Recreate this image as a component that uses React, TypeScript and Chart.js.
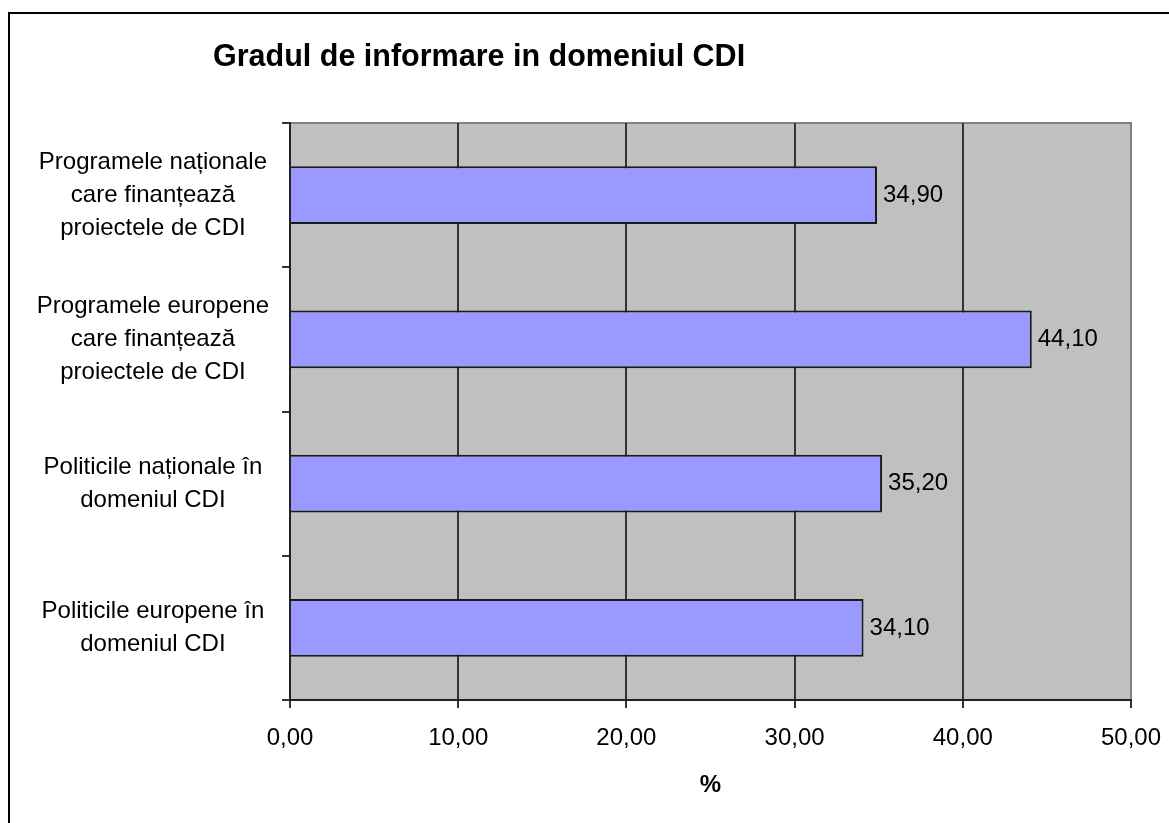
import React, { useEffect, useRef } from "react";
import { Chart, registerables } from "chart.js";

Chart.register(...registerables);

const chartTitle = "Gradul de informare in domeniul CDI";
const categories: string[][] = [
  ["Programele naționale", "care finanțează", "proiectele de CDI"],
  ["Programele europene", "care finanțează", "proiectele de CDI"],
  ["Politicile naționale în", "domeniul CDI"],
  ["Politicile europene în", "domeniul CDI"],
];
const values = [34.9, 44.1, 35.2, 34.1];
const xTickValues = [0, 10, 20, 30, 40, 50];
const xAxisTitle = "%";

const FONT = "'Liberation Sans', Arial, sans-serif";
const fmt = (v: number) => v.toFixed(2).replace(".", ",");

const decorPlugin = {
  id: "decor",
  beforeDraw(chart: any) {
    const { ctx, chartArea, width, height } = chart;
    ctx.save();
    // outer chart border (top & left visible)
    ctx.fillStyle = "#000";
    ctx.fillRect(8, 12, width - 8, 2);
    ctx.fillRect(8, 12, 2, height - 12);
    // plot background
    ctx.fillStyle = "#C0C0C0";
    ctx.fillRect(chartArea.left, chartArea.top, chartArea.right - chartArea.left, chartArea.bottom - chartArea.top);
    // top border of plot
    ctx.fillStyle = "#808080";
    ctx.fillRect(chartArea.left, chartArea.top - 1, chartArea.right - chartArea.left + 1, 2);
    // title
    ctx.fillStyle = "#000";
    ctx.font = `bold 30.5px ${FONT}`;
    ctx.textAlign = "left";
    ctx.textBaseline = "alphabetic";
    ctx.fillText(chartTitle, 213, 66);
    ctx.restore();
  },
  afterDatasetsDraw(chart: any) {
    const { ctx } = chart;
    const meta = chart.getDatasetMeta(0);
    ctx.save();
    ctx.fillStyle = "#000";
    ctx.font = `24px ${FONT}`;
    ctx.textAlign = "left";
    ctx.textBaseline = "middle";
    meta.data.forEach((bar: any, i: number) => {
      ctx.fillText(fmt(values[i]), bar.x + 6, bar.y);
    });
    ctx.restore();
  },
};

export default function App() {
  const canvasRef = useRef<HTMLCanvasElement | null>(null);

  useEffect(() => {
    if (!canvasRef.current) return;
    const chart = new Chart(canvasRef.current, {
      type: "bar",
      data: {
        labels: categories as any,
        datasets: [
          {
            data: values,
            backgroundColor: "#9999FF",
            borderColor: "#1a1a1a",
            borderWidth: 2,
            categoryPercentage: 1,
            barPercentage: 0.4,
          },
        ],
      },
      options: {
        indexAxis: "y",
        responsive: false,
        animation: false,
        layout: { padding: { top: 123, right: 38, left: 0, bottom: 0 } },
        plugins: {
          legend: { display: false },
          tooltip: { enabled: false },
          title: { display: false },
        },
        scales: {
          x: {
            min: 0,
            max: 50,
            afterBuildTicks: (s: any) => {
              s.ticks = xTickValues.map((v) => ({ value: v }));
            },
            ticks: {
              callback: (v: any) => fmt(Number(v)),
              font: { family: FONT, size: 24 },
              color: "#000",
              padding: 16,
              maxRotation: 0,
              autoSkip: false,
            },
            grid: {
              color: (ctx: any) => (ctx.tick && ctx.tick.value === 50 ? "#808080" : "#333"),
              lineWidth: 2,
              tickLength: 8,
              tickColor: "#333",
            },
            border: { color: "#222", width: 2 },
            title: {
              display: true,
              text: xAxisTitle,
              font: { family: FONT, size: 24, weight: "bold" },
              color: "#000",
              padding: { top: 0, bottom: 23 },
            },
            afterFit: (s: any) => {
              s.height = 123;
              s.paddingLeft = 0;
              s.paddingRight = 0;
            },
          },
          y: {
            ticks: {
              font: { family: FONT, size: 24, lineHeight: 1.375 },
              color: "#000",
              crossAlign: "center",
              padding: 13,
            },
            grid: {
              drawOnChartArea: false,
              drawTicks: true,
              tickLength: 8,
              color: "#333",
              lineWidth: 2,
            },
            border: { color: "#222", width: 2 },
            afterFit: (s: any) => {
              s.width = 290;
              s.paddingTop = 0;
              s.paddingBottom = 0;
            },
          },
        },
      } as any,
      plugins: [decorPlugin],
    });
    return () => chart.destroy();
  }, []);

  return (
    <div style={{ position: "fixed", left: 0, top: 0, width: 1169, height: 823, background: "#fff" }}>
      <canvas ref={canvasRef} width={1169} height={823} style={{ width: 1169, height: 823, display: "block" }} />
    </div>
  );
}
